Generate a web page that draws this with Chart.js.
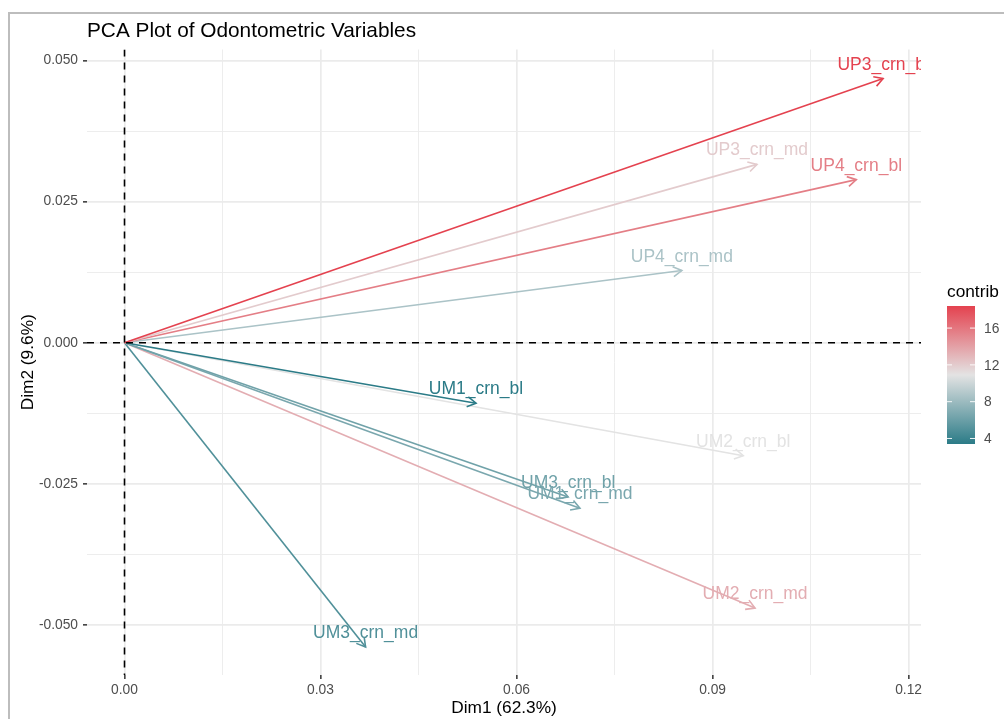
<!DOCTYPE html>
<html>
<head>
<meta charset="utf-8">
<title>PCA Plot of Odontometric Variables</title>
<script src="https://cdn.jsdelivr.net/npm/chart.js@4.4.1/dist/chart.umd.min.js"></script>
<style>
  html, body { margin: 0; padding: 0; background: #fff; }
  #wrap { position: relative; width: 1004px; height: 719px; overflow: hidden; }
  #frame { position: absolute; left: 8px; top: 12px; right: -10px; bottom: -10px;
           border-top: 2px solid #bdbdbd; border-left: 2px solid #bdbdbd; }
  canvas { position: absolute; left: 0; top: 0; }
</style>
</head>
<body>
<div id="wrap">
  <div id="frame"></div>
  <canvas id="pca" width="1004" height="719"></canvas>
</div>
<script>
(function () {
  'use strict';

  // variable coordinates on the first two dimensions and their contribution
  var variables = ['UP3_crn_bl', 'UP3_crn_md', 'UP4_crn_bl', 'UP4_crn_md', 'UM1_crn_bl',
                   'UM2_crn_bl', 'UM3_crn_bl', 'UM1_crn_md', 'UM2_crn_md', 'UM3_crn_md'];
  var dim1 = [0.1161, 0.0968, 0.1120, 0.0853, 0.0538, 0.0947, 0.0679, 0.0697, 0.0965, 0.0369];
  var dim2 = [0.0468, 0.0316, 0.0289, 0.0128, -0.0107, -0.0200, -0.0273, -0.0293, -0.0470, -0.0539];
  var contrib = [18.4, 12.0, 15.6, 8.6, 3.4, 10.9, 6.2, 6.6, 13.4, 4.9];

  var xMajor = [0, 0.03, 0.06, 0.09, 0.12];
  var xLabels = ['0.00', '0.03', '0.06', '0.09', '0.12'];
  var yMajor = [-0.05, -0.025, 0, 0.025, 0.05];
  var yLabels = ['-0.050', '-0.025', '0.000', '0.025', '0.050'];
  var legendTicks = [4, 8, 12, 16];
  var gradientCols = ['#2B7B87', '#E3E3E3', '#E4424F'];

  var FONT = '"Liberation Sans", Arial, Helvetica, sans-serif';
  var cMin = Math.min.apply(null, contrib);
  var cMax = Math.max.apply(null, contrib);

  function hexRgb(h) {
    var n = parseInt(h.slice(1), 16);
    return [(n >> 16) & 255, (n >> 8) & 255, n & 255];
  }

  function colorFor(v) {
    var t = (v - cMin) / (cMax - cMin);
    var seg = t < 0.5 ? 0 : 1;
    var f = seg === 0 ? t * 2 : (t - 0.5) * 2;
    var a = hexRgb(gradientCols[seg]);
    var b = hexRgb(gradientCols[seg + 1]);
    return 'rgb(' + a.map(function (c, k) { return Math.round(c + (b[k] - c) * f); }).join(',') + ')';
  }

  function withMinor(major) {
    var out = major.slice();
    for (var i = 0; i < major.length - 1; i++) out.push((major[i] + major[i + 1]) / 2);
    return out.sort(function (a, b) { return a - b; });
  }

  function majorIndex(list, v) {
    for (var i = 0; i < list.length; i++) if (Math.abs(list[i] - v) < 1e-9) return i;
    return -1;
  }

  function axis(major, labels, fit) {
    var all = withMinor(major);
    return {
      type: 'linear',
      afterBuildTicks: function (scale) {
        scale.ticks = all.map(function (v) { return { value: v }; });
      },
      afterFit: fit,
      border: { display: false },
      grid: {
        color: '#EBEBEB',
        lineWidth: function (ctx) { return ctx.tick && majorIndex(major, ctx.tick.value) >= 0 ? 1.7 : 0.9; },
        drawTicks: true,
        tickLength: 4,
        tickWidth: 1.5,
        tickColor: function (ctx) { return ctx.tick && majorIndex(major, ctx.tick.value) >= 0 ? '#333333' : 'rgba(0,0,0,0)'; },
      },
      ticks: {
        autoSkip: false,
        maxRotation: 0,
        padding: 5,
        color: '#4D4D4D',
        font: { family: FONT, size: 13.8 },
        callback: function (v) {
          var i = majorIndex(major, v);
          return i >= 0 ? labels[i] : '';
        },
      },
    };
  }

  var xAxis = axis(xMajor, xLabels, function (s) { s.height = 44; });
  xAxis.min = -0.00574;
  xAxis.max = 0.1219;
  xAxis.ticks.padding = 3;
  var yAxis = axis(yMajor, yLabels, function (s) { s.width = 87; });
  yAxis.min = -0.05885;
  yAxis.max = 0.05195;

  function drawArrowHead(ctx, p0, p1, color) {
    var ang = Math.atan2(p1.y - p0.y, p1.x - p0.x);
    var len = 10, spread = Math.PI / 6;
    ctx.strokeStyle = color;
    ctx.lineWidth = 1.6;
    ctx.beginPath();
    ctx.moveTo(p1.x - len * Math.cos(ang - spread), p1.y - len * Math.sin(ang - spread));
    ctx.lineTo(p1.x, p1.y);
    ctx.lineTo(p1.x - len * Math.cos(ang + spread), p1.y - len * Math.sin(ang + spread));
    ctx.stroke();
  }

  var pcaDecor = {
    id: 'pcaDecor',
    afterDatasetsDraw: function (chart) {
      var ctx = chart.ctx;
      var a = chart.chartArea;
      ctx.save();
      ctx.beginPath();
      ctx.rect(a.left, a.top, a.right - a.left, a.bottom - a.top);
      ctx.clip();
      ctx.lineCap = 'butt';

      // arrow heads and variable names at the tips
      chart.data.datasets.forEach(function (ds, i) {
        var pts = chart.getDatasetMeta(i).data;
        drawArrowHead(ctx, pts[0], pts[1], ds.borderColor);
        ctx.fillStyle = ds.borderColor;
        ctx.font = '17.5px ' + FONT;
        ctx.textAlign = 'center';
        ctx.textBaseline = 'alphabetic';
        ctx.fillText(ds.label, pts[1].x, pts[1].y - 9);
      });

      // dashed reference lines through the origin
      var x0 = chart.scales.x.getPixelForValue(0);
      var y0 = chart.scales.y.getPixelForValue(0);
      ctx.strokeStyle = '#000000';
      ctx.lineWidth = 1.6;
      ctx.setLineDash([7, 6]);
      ctx.beginPath();
      ctx.moveTo(a.left, y0);
      ctx.lineTo(a.right, y0);
      ctx.moveTo(x0, a.top);
      ctx.lineTo(x0, a.bottom);
      ctx.stroke();
      ctx.restore();
    },
    afterDraw: function (chart) {
      var ctx = chart.ctx;
      var a = chart.chartArea;
      ctx.save();
      ctx.fillStyle = '#000000';
      ctx.textBaseline = 'alphabetic';

      ctx.font = '20.8px ' + FONT;
      ctx.textAlign = 'left';
      ctx.fillText('PCA Plot of Odontometric Variables', a.left, 37);

      ctx.font = '17.3px ' + FONT;
      ctx.textAlign = 'center';
      ctx.fillText('Dim1 (62.3%)', (a.left + a.right) / 2, 713);
      ctx.save();
      ctx.translate(33, (a.top + a.bottom) / 2);
      ctx.rotate(-Math.PI / 2);
      ctx.fillText('Dim2 (9.6%)', 0, 0);
      ctx.restore();

      // colour bar for contrib
      var bx = 947, bw = 28, top = 306, bottom = 444;
      ctx.textAlign = 'left';
      ctx.fillText('contrib', bx, 297);
      var g = ctx.createLinearGradient(0, bottom, 0, top);
      g.addColorStop(0, gradientCols[0]);
      g.addColorStop(0.5, gradientCols[1]);
      g.addColorStop(1, gradientCols[2]);
      ctx.fillStyle = g;
      ctx.fillRect(bx, top, bw, bottom - top);
      ctx.font = '13.8px ' + FONT;
      ctx.textBaseline = 'middle';
      legendTicks.forEach(function (v) {
        var y = bottom - (v - cMin) / (cMax - cMin) * (bottom - top);
        ctx.strokeStyle = 'rgba(255,255,255,0.9)';
        ctx.lineWidth = 1;
        ctx.beginPath();
        ctx.moveTo(bx, y); ctx.lineTo(bx + 5, y);
        ctx.moveTo(bx + bw - 5, y); ctx.lineTo(bx + bw, y);
        ctx.stroke();
        ctx.fillStyle = '#4D4D4D';
        ctx.fillText(String(v), bx + bw + 9, y + 1);
      });
      ctx.restore();
    },
  };

  new Chart(document.getElementById('pca'), {
    type: 'scatter',
    data: {
      datasets: variables.map(function (name, i) {
        return {
          label: name,
          data: [{ x: 0, y: 0 }, { x: dim1[i], y: dim2[i] }],
          showLine: true,
          borderColor: colorFor(contrib[i]),
          borderWidth: 1.6,
          pointRadius: 0,
          pointHoverRadius: 0,
          fill: false,
        };
      }),
    },
    options: {
      responsive: false,
      animation: false,
      layout: { padding: { top: 49.5, right: 83, bottom: 0, left: 0 } },
      plugins: { legend: { display: false }, tooltip: { enabled: false } },
      scales: { x: xAxis, y: yAxis },
    },
    plugins: [pcaDecor],
  });
})();
</script>
</body>
</html>
